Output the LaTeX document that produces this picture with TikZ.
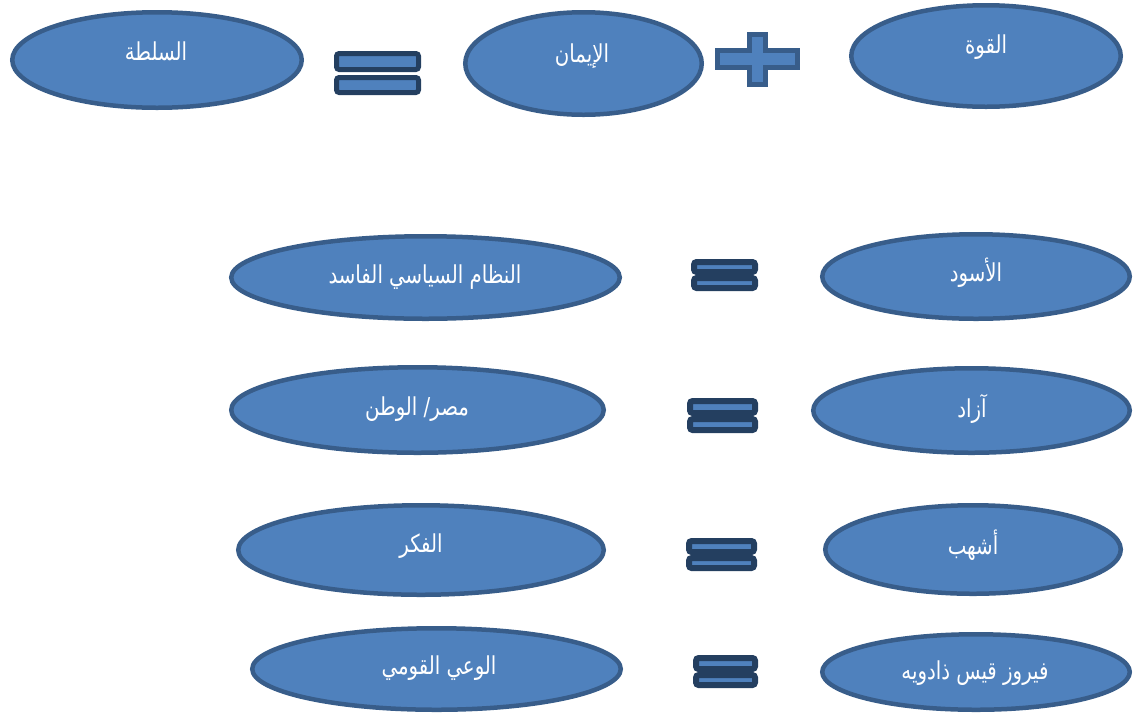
\documentclass[tikz,border=0pt]{standalone}
\usepackage{fontspec}
\usetikzlibrary{shapes.geometric}
\TeXXeTstate=1
\newfontfamily\arabicfont[Script=Arabic,FakeStretch=0.8]{DejaVu Sans}
\definecolor{fillb}{HTML}{4F81BD}
\definecolor{edgeb}{HTML}{385D8A}
\definecolor{eqedge}{HTML}{243F60}
\newdimen\pxu \pxu=0.75pt
\begin{document}
\begin{tikzpicture}[x=0.75pt,y=-0.75pt,
  ell/.style={ellipse, draw=edgeb, fill=fillb, line width=4.5\pxu, inner sep=0pt, outer sep=0pt},
  eqbar/.style={rectangle, draw=eqedge, fill=fillb, rounded corners=2pt, inner sep=0pt, outer sep=0pt},
  plussign/.style={draw=edgeb, fill=fillb, line width=5\pxu},
  lbl/.style={text=white, inner sep=0pt, font=\arabicfont\fontsize{18.5}{22}\selectfont}]
\useasboundingbox (0,0) rectangle (1134,715);
% ellipses
\node[ell, minimum width=289.5\pxu, minimum height=95.5\pxu] (e1) at (157,60) {};
\node[ell, minimum width=236.5\pxu, minimum height=102.5\pxu] (e2) at (583.5,63.5) {};
\node[ell, minimum width=269.5\pxu, minimum height=101.5\pxu] (e3) at (986,56) {};
\node[ell, minimum width=388.5\pxu, minimum height=82.5\pxu] (e4) at (425.5,277.5) {};
\node[ell, minimum width=307.5\pxu, minimum height=84.5\pxu] (e5) at (976,276.5) {};
\node[ell, minimum width=372.5\pxu, minimum height=85.5\pxu] (e6) at (417.5,410) {};
\node[ell, minimum width=316.5\pxu, minimum height=84.5\pxu] (e7) at (971.5,410.5) {};
\node[ell, minimum width=365.5\pxu, minimum height=89.5\pxu] (e8) at (421,550) {};
\node[ell, minimum width=295.5\pxu, minimum height=88.5\pxu] (e9) at (973,549.5) {};
\node[ell, minimum width=368.5\pxu, minimum height=81.5\pxu] (e10) at (436.5,669) {};
\node[ell, minimum width=307.5\pxu, minimum height=75.5\pxu] (e11) at (976,672) {};
% labels
\node[lbl] (t1) at (156,51) {\beginR السلطة\endR};
\node[lbl] (t2) at (582,56) {\beginR الإيمان\endR};
\node[lbl] (t3) at (986,47) {\beginR القوة\endR};
\node[lbl] (t4) at (425,277) {\beginR النظام السياسي الفاسد\endR};
\node[lbl] (t5) at (976,273) {\beginR الأسود\endR};
\node[lbl] (t6) at (417,409) {\beginR مصر/ الوطن\endR};
\node[lbl] (t7) at (972,409) {\beginR آزاد\endR};
\node[lbl] (t8) at (421,546) {\beginR الفكر\endR};
\node[lbl] (t9) at (973,545) {\beginR أشهب\endR};
\node[lbl] (t10) at (439,668) {\beginR الوعي القومي\endR};
\node[lbl] (t11) at (975,673) {\beginR فيروز قيس ذادويه\endR};
% equals signs
\node[eqbar, line width=5\pxu, minimum width=82\pxu, minimum height=16\pxu] (q1a) at (377.5,61.5) {};
\node[eqbar, line width=5\pxu, minimum width=82\pxu, minimum height=15\pxu] (q1b) at (377.5,85) {};
\node[eqbar, line width=6\pxu, minimum width=61\pxu, minimum height=10\pxu] (q2a) at (724.5,267) {};
\node[eqbar, line width=6\pxu, minimum width=61\pxu, minimum height=10\pxu] (q2b) at (724.5,283) {};
\node[eqbar, line width=6\pxu, minimum width=65\pxu, minimum height=12\pxu] (q3a) at (722.5,407) {};
\node[eqbar, line width=6\pxu, minimum width=65\pxu, minimum height=11\pxu] (q3b) at (722.5,424.5) {};
\node[eqbar, line width=6\pxu, minimum width=65\pxu, minimum height=11\pxu] (q4a) at (721.5,546.5) {};
\node[eqbar, line width=6\pxu, minimum width=65\pxu, minimum height=10\pxu] (q4b) at (721.5,563) {};
\node[eqbar, line width=6\pxu, minimum width=59\pxu, minimum height=11\pxu] (q5a) at (725.5,663.5) {};
\node[eqbar, line width=6\pxu, minimum width=59\pxu, minimum height=10\pxu] (q5b) at (725.5,680) {};
% plus sign
\draw[plussign] (717.5,50.5) -- (749.5,50.5) -- (749.5,34.5) -- (765.5,34.5) -- (765.5,50.5)
  -- (797.5,50.5) -- (797.5,67.5) -- (765.5,67.5) -- (765.5,84.5) -- (749.5,84.5)
  -- (749.5,67.5) -- (717.5,67.5) -- cycle;
\end{tikzpicture}
\end{document}
